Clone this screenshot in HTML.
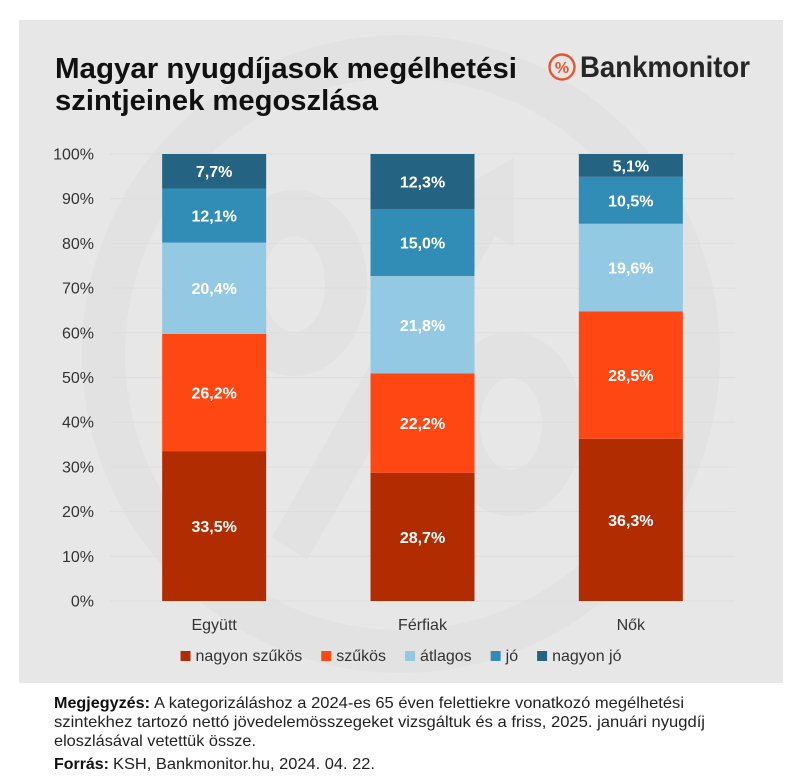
<!DOCTYPE html>
<html lang="hu">
<head>
<meta charset="utf-8">
<title>Magyar nyugdíjasok megélhetési szintjeinek megoszlása</title>
<style>
html,body{margin:0;padding:0;background:#fff;width:787px;height:781px;overflow:hidden}
svg{display:block;font-family:"Liberation Sans",sans-serif}
</style>
</head>
<body>
<svg id="chart" width="787" height="781" viewBox="0 0 787 781" xmlns="http://www.w3.org/2000/svg">
  <rect x="19" y="20" width="764" height="663" fill="#e7e7e7"/>
  <g fill="#e2e2e2">
    <path fill-rule="evenodd" d="M401 35a319 319 0 1 0 .01 0zM401 78a276 276 0 1 1 -.01 0z"/>
    <path fill-rule="evenodd" d="M294 190a73 93 0 1 0 .01 0zM294 236a31 48 0 1 1 -.01 0z"/>
    <path fill-rule="evenodd" d="M511 332a72 92 0 1 0 .01 0zM511 378a31 46 0 1 1 -.01 0z"/>
    <polygon points="272,537 475,180 514,158 514,247 495,236 307,560"/>
  </g>
  <text x="55" y="78" font-size="29" font-weight="700" fill="#111" textLength="462" lengthAdjust="spacingAndGlyphs">Magyar nyugdíjasok megélhetési</text>
  <text x="55" y="110" font-size="29" font-weight="700" fill="#111" textLength="323" lengthAdjust="spacingAndGlyphs">szintjeinek megoszlása</text>
  <g>
    <circle cx="562" cy="67" r="12.5" fill="none" stroke="#e9562e" stroke-width="2.4"/>
    <text x="562" y="73" font-size="16" font-weight="700" fill="#e9562e" text-anchor="middle">%</text>
    <text x="580" y="77" font-size="30" font-weight="700" fill="#262626" textLength="170" lengthAdjust="spacingAndGlyphs">Bankmonitor</text>
  </g>
  <g id="plot"></g>
  <g id="legend"></g>
  <g font-size="16" fill="#222">
    <text x="54" y="708" font-weight="700" fill="#111" textLength="96" lengthAdjust="spacingAndGlyphs">Megjegyzés:</text>
    <text x="154" y="708" textLength="530" lengthAdjust="spacingAndGlyphs">A kategorizáláshoz a 2024-es 65 éven felettiekre vonatkozó megélhetési</text>
    <text x="54" y="727" textLength="651" lengthAdjust="spacingAndGlyphs">szintekhez tartozó nettó jövedelemösszegeket vizsgáltuk és a friss, 2025. januári nyugdíj</text>
    <text x="54" y="746" textLength="202" lengthAdjust="spacingAndGlyphs">eloszlásával vetettük össze.</text>
    <text x="54" y="769" font-weight="700" fill="#111" textLength="55" lengthAdjust="spacingAndGlyphs">Forrás:</text>
    <text x="113" y="769" textLength="262" lengthAdjust="spacingAndGlyphs">KSH, Bankmonitor.hu, 2024. 04. 22.</text>
  </g>
</svg>
<script>
const categories = ['Együtt', 'Férfiak', 'Nők'];
const seriesNames = ['nagyon szűkös', 'szűkös', 'átlagos', 'jó', 'nagyon jó'];
const seriesColors = ['#b22c02', '#ff4713', '#94c9e3', '#318cb6', '#246382'];
const nagyonSzukos = [33.5, 28.7, 36.3];
const szukos = [26.2, 22.2, 28.5];
const atlagos = [20.4, 21.8, 19.6];
const jo = [12.1, 15.0, 10.5];
const nagyonJo = [7.7, 12.3, 5.1];
const allSeries = [nagyonSzukos, szukos, atlagos, jo, nagyonJo];
const tickLabels = ['0%', '10%', '20%', '30%', '40%', '50%', '60%', '70%', '80%', '90%', '100%'];
const tickValues = [0, 10, 20, 30, 40, 50, 60, 70, 80, 90, 100];

const NS = 'http://www.w3.org/2000/svg';
const plot = document.getElementById('plot');
const legend = document.getElementById('legend');
const left = 110, right = 735, top_ = 154, bottom = 601, barW = 104;
const yScale = v => bottom - (v / 100) * (bottom - top_);
const xCenter = i => left + (right - left) * (i + 0.5) / categories.length;
const fmt = v => v.toFixed(1).replace('.', ',') + '%';
function mk(parent, tag, attrs, txt) {
  const el = document.createElementNS(NS, tag);
  for (const k in attrs) el.setAttribute(k, attrs[k]);
  if (txt !== undefined) el.textContent = txt;
  parent.appendChild(el);
  return el;
}

tickValues.forEach((t, i) => {
  const y = yScale(t);
  const line = mk(plot, 'line', {x1: left, x2: right, y1: y, y2: y, stroke: '#dedede', 'stroke-width': 1});
  
  
  const lab = mk(plot, 'text', {x: 94, y: y + 5.5, 'text-anchor': 'end', 'font-size': 16, fill: '#333'}, tickLabels[i]);
  
  
});

categories.forEach((c, i) => {
  const total = allSeries.reduce((s, a) => s + a[i], 0);
  let acc = 0;
  allSeries.forEach((a, s) => {
    const v0 = acc / total * 100;
    acc += a[i];
    const v1 = acc / total * 100;
    const rect = mk(plot, 'rect', {x: xCenter(i) - barW / 2, y: yScale(v1), width: barW, height: yScale(v0) - yScale(v1), fill: seriesColors[s]});
    
    
  });
  acc = 0;
  allSeries.forEach((a) => {
    const v0 = acc / total * 100;
    acc += a[i];
    const v1 = acc / total * 100;
    const lab = mk(plot, 'text', {x: xCenter(i), y: (yScale(v0) + yScale(v1)) / 2 + 6, 'text-anchor': 'middle', 'font-size': 16, 'font-weight': 700, fill: '#fff'}, fmt(a[i]));
    
    
  });
  const cat = mk(plot, 'text', {x: xCenter(i), y: 630, 'text-anchor': 'middle', 'font-size': 16, fill: '#333'}, c);
  
  
});

/* legend: laid out by measuring each label, centred in the plot */
const swatch = 10, swatchGap = 5, itemGap = 19;
const items = seriesNames.map((n, s) => {
  const g = mk(legend, 'g', {});
  
  
  const r = mk(g, 'rect', {y: 651, width: swatch, height: swatch, fill: seriesColors[s]});
  
  
  const t = mk(g, 'text', {y: 661, 'font-size': 16, fill: '#333'}, n);
  
  
  return {r, t, w: t.getComputedTextLength()};
});
const totalW = items.reduce((s, it) => s + swatch + swatchGap + it.w, 0) + itemGap * (items.length - 1);
let cx = 401 - totalW / 2;
items.forEach(it => {
  it.r.setAttribute('x', cx);
  it.t.setAttribute('x', cx + swatch + swatchGap);
  cx += swatch + swatchGap + it.w + itemGap;
});
</script>
</body>
</html>
